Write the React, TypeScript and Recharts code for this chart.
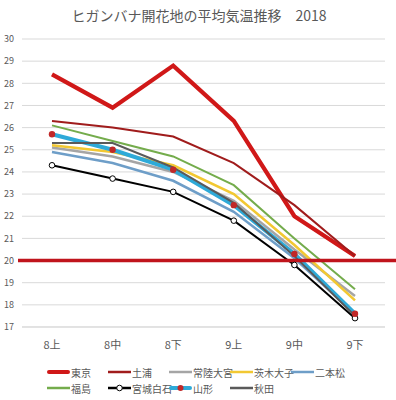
import React from 'react';
import { LineChart, Line, XAxis, YAxis, CartesianGrid, ReferenceLine, Legend } from 'recharts';

const categories = ['8上', '8中', '8下', '9上', '9中', '9下'];
const tokyo = [28.4, 26.9, 28.8, 26.3, 22.0, 20.2];
const tsuchiura = [26.3, 26.0, 25.6, 24.4, 22.5, 20.2];
const hitachiomiya = [25.1, 24.7, 24.0, 22.7, 20.5, 18.4];
const ibarakiDaigo = [25.2, 24.9, 24.3, 23.0, 20.7, 18.2];
const nihonmatsu = [24.9, 24.4, 23.6, 22.2, 20.1, 17.6];
const fukushima = [26.1, 25.4, 24.7, 23.4, 21.0, 18.7];
const miyagiShiroishi = [24.3, 23.7, 23.1, 21.8, 19.8, 17.4];
const yamagata = [25.7, 25.0, 24.1, 22.5, 20.3, 17.6];
const akita = [25.3, 25.3, 24.2, 22.6, 20.2, 17.5];
const yTicks = [17, 18, 19, 20, 21, 22, 23, 24, 25, 26, 27, 28, 29, 30];
const threshold = 20;

const seriesNames = ['東京', '土浦', '常陸大宮', '茨木大子', '二本松', '福島', '宮城白石', '山形', '秋田'];
const seriesValues = [tokyo, tsuchiura, hitachiomiya, ibarakiDaigo, nihonmatsu, fukushima, miyagiShiroishi, yamagata, akita];

const styles: Record<string, { color: string; width: number; dot?: 'white' | 'red' }> = {
  '東京': { color: '#d01818', width: 4.2 },
  '土浦': { color: '#a01c1c', width: 2 },
  '常陸大宮': { color: '#a5a5a5', width: 2.5 },
  '茨木大子': { color: '#f2c832', width: 2.5 },
  '二本松': { color: '#6e9ec8', width: 2.5 },
  '福島': { color: '#74ac4c', width: 2 },
  '宮城白石': { color: '#000000', width: 2, dot: 'white' },
  '山形': { color: '#2eaad8', width: 4, dot: 'red' },
  '秋田': { color: '#5a5a5a', width: 2 },
};

const data = categories.map((c, i) => {
  const row: Record<string, string | number> = { cat: c };
  seriesNames.forEach((n, j) => {
    row[n] = seriesValues[j][i];
  });
  return row;
});

const FONT = '"Noto Sans CJK JP", "Noto Sans", sans-serif';

const LegendContent = () => (
  <div style={{ width: 352, paddingLeft: 47, boxSizing: 'border-box', display: 'flex', flexWrap: 'wrap', height: 32, fontFamily: FONT }}>
    {seriesNames.map((n) => {
      const s = styles[n];
      return (
        <div key={n} style={{ width: 61, height: 16, display: 'flex', alignItems: 'center' }}>
          <svg width={23} height={10} style={{ flex: 'none' }}>
            <line x1={s.width > 3 ? 2 : 0} y1={5} x2={s.width > 3 ? 21 : 23} y2={5} stroke={s.color} strokeWidth={s.width > 3 ? 4 : 2.5} strokeLinecap={s.width > 3 ? 'round' : 'butt'} />
            {s.dot === 'white' && <circle cx={11.5} cy={5} r={2.8} fill="#fff" stroke="#000" strokeWidth={1} />}
            {s.dot === 'red' && <circle cx={11.5} cy={5} r={3} fill="#c02828" />}
          </svg>
          <span style={{ fontSize: 10, color: '#595959', whiteSpace: 'nowrap', marginLeft: 1 }}>{n}</span>
        </div>
      );
    })}
  </div>
);

const RefShape = (p: any) => (
  <line x1={p.x1 - 4} y1={p.y1} x2={p.x2 + 11} y2={p.y2} stroke="#c0141c" strokeWidth={3.5} />
);

export default function App() {
  return (
    <div style={{ position: 'absolute', left: 0, top: 0, width: 396, height: 400, background: '#fff' }}>
      <div style={{ position: 'absolute', top: 5, left: 0, width: 396, textAlign: 'center', fontFamily: FONT, fontSize: 14, color: '#595959', paddingLeft: 2, boxSizing: 'border-box' }}>
        ヒガンバナ開花地の平均気温推移　2018
      </div>
      <LineChart width={396} height={400} data={data} margin={{ top: 39, right: 11, left: 0, bottom: 4 }}>
        <CartesianGrid vertical={false} stroke="#d9d9d9" />
        <XAxis
          dataKey="cat"
          padding={{ left: 30, right: 30 }}
          tickLine={false}
          axisLine={{ stroke: '#d9d9d9' }}
          tickMargin={8}
          height={37}
          tick={{ fontSize: 11, fill: '#595959', fontFamily: FONT }}
        />
        <YAxis
          width={22}
          domain={[17, 30]}
          ticks={yTicks}
          interval={0}
          tickLine={false}
          axisLine={false}
          tick={{ fontSize: 9, fill: '#595959', fontFamily: FONT }}
        />
        {seriesNames.map((n) => {
          const s = styles[n];
          let dot: any = false;
          if (s.dot === 'white') dot = { r: 2.8, fill: '#fff', stroke: '#000', strokeWidth: 1 };
          if (s.dot === 'red') dot = { r: 3.2, fill: '#c02828', stroke: 'none' };
          return (
            <Line
              key={n}
              dataKey={n}
              name={n}
              stroke={s.color}
              strokeWidth={s.width}
              dot={dot}
              activeDot={false}
              isAnimationActive={false}
              strokeLinejoin="miter"
            />
          );
        })}
        <ReferenceLine y={threshold} shape={RefShape} ifOverflow="visible" />
        <Legend verticalAlign="bottom" height={32} content={<LegendContent />} />
      </LineChart>
    </div>
  );
}
